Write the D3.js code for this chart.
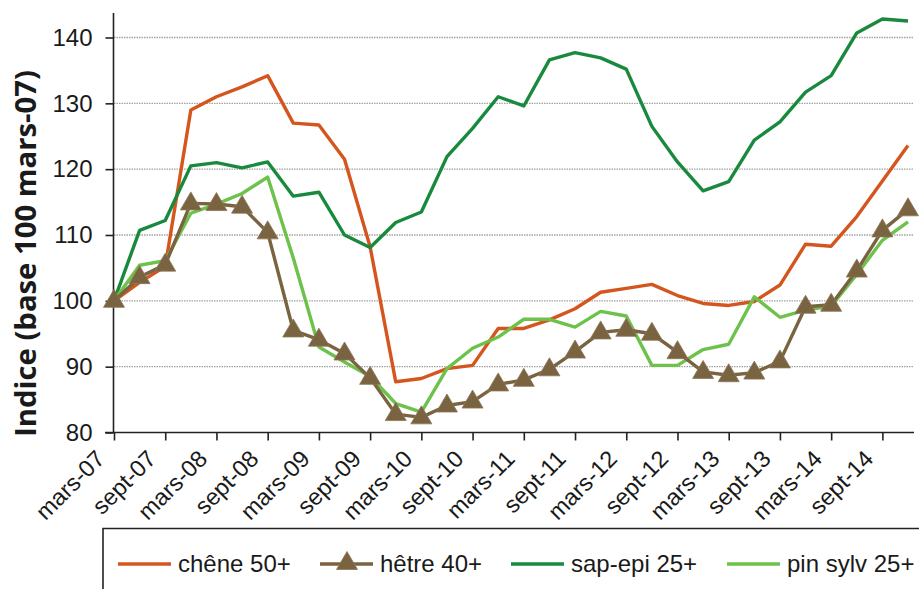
<!DOCTYPE html>
<html>
<head>
<meta charset="utf-8">
<script src="https://cdn.jsdelivr.net/npm/d3@7"></script>
<style>
  html, body { margin: 0; padding: 0; background: #fff; }
  svg { display: block; }
</style>
</head>
<body>
<svg id="chart" width="919" height="589"></svg>
<script>
// ---- data ----
const quarters = [
  "mars-07","juin-07","sept-07","déc-07",
  "mars-08","juin-08","sept-08","déc-08",
  "mars-09","juin-09","sept-09","déc-09",
  "mars-10","juin-10","sept-10","déc-10",
  "mars-11","juin-11","sept-11","déc-11",
  "mars-12","juin-12","sept-12","déc-12",
  "mars-13","juin-13","sept-13","déc-13",
  "mars-14","juin-14","sept-14","déc-14"
];
const tickLabels = ["mars-07","sept-07","mars-08","sept-08","mars-09","sept-09","mars-10","sept-10",
  "mars-11","sept-11","mars-12","sept-12","mars-13","sept-13","mars-14","sept-14"];
const yTicks = [80, 90, 100, 110, 120, 130, 140];

const chene = [100, 102.8, 105.2, 129.0, 131.0, 132.5, 134.2, 127.0, 126.7, 121.5, 108.2, 87.7,
  88.2, 89.7, 90.2, 95.8, 95.8, 97.1, 98.8, 101.3, 101.9, 102.5, 100.8, 99.6,
  99.3, 99.9, 102.4, 108.6, 108.3, 112.8, 118.2, 123.6];
const hetre = [100, 103.6, 105.5, 114.8, 114.7, 114.3, 110.4, 95.5, 94.1, 92.0, 88.3, 82.8,
  82.3, 84.1, 84.7, 87.3, 88.0, 89.6, 92.3, 95.2, 95.6, 95.0, 92.2, 89.2,
  88.7, 89.1, 90.8, 99.1, 99.4, 104.6, 110.7, 113.9];
const sapepi = [100, 110.7, 112.2, 120.5, 121.0, 120.2, 121.1, 115.9, 116.5, 110.0, 108.1, 111.9,
  113.5, 121.9, 126.2, 131.0, 129.6, 136.6, 137.7, 136.9, 135.2, 126.5, 121.1, 116.7,
  118.1, 124.4, 127.2, 131.7, 134.2, 140.7, 142.8, 142.5];
const pinsylv = [100, 105.4, 106.1, 113.3, 114.7, 116.3, 118.8, 106.5, 93.0, 90.7, 88.5, 84.4,
  83.1, 89.7, 92.8, 94.5, 97.2, 97.2, 96.0, 98.4, 97.7, 90.2, 90.2, 92.6,
  93.4, 100.6, 97.5, 98.6, 99.2, 104.0, 109.2, 112.0];

const seriesNames = ["chêne 50+", "hêtre 40+", "sap-epi 25+", "pin sylv 25+"];
const seriesColors = ["#d4561e", "#7a6341", "#198a3d", "#6cc24a"];

// ---- layout ----
const svg = d3.select("#chart");
const x0 = 114, x1 = 908, axisEnd = 914;
const yBottom = 432.5, yTop = 37.5;

const x = d3.scaleLinear().domain([0, quarters.length - 1]).range([x0, x1]);
const y = d3.scaleLinear().domain([80, 140]).range([yBottom, yTop]);

const font = "'Liberation Sans', Arial, sans-serif";

// gridlines
svg.append("g").selectAll("line").data(yTicks.filter(d => d > 80)).join("line")
  .attr("x1", x0).attr("x2", axisEnd)
  .attr("y1", d => y(d)).attr("y2", d => y(d))
  .attr("stroke", "#a3a3a3").attr("stroke-width", 1.4).attr("stroke-dasharray", "1.5,1");

// y axis
const yAxis = d3.axisLeft(y).tickValues(yTicks).tickSize(8).tickPadding(13).tickFormat(d3.format("d"));
const gy = svg.append("g").attr("transform", `translate(${x0 - 0.5},0)`).call(yAxis);
gy.select(".domain").remove();
gy.append("line").attr("x1", 0).attr("x2", 0).attr("y1", yBottom).attr("y2", 13)
  .attr("stroke", "#222").attr("stroke-width", 1.6);
gy.selectAll(".tick line").attr("stroke", "#222").attr("stroke-width", 1.6);
gy.selectAll(".tick text").attr("font-family", font).attr("font-size", 24).attr("fill", "#1a1a1a");

// x axis
const tickIdx = tickLabels.map(l => quarters.indexOf(l));
const xAxis = d3.axisBottom(x).tickValues(tickIdx).tickSize(8).tickFormat(i => quarters[i]);
const gx = svg.append("g").attr("transform", `translate(0,${yBottom})`).call(xAxis);
gx.select(".domain").remove();
gx.append("line").attr("x1", x0 - 9).attr("x2", axisEnd).attr("y1", 0).attr("y2", 0)
  .attr("stroke", "#222").attr("stroke-width", 1.6);
gx.selectAll(".tick line").attr("stroke", "#222").attr("stroke-width", 1.6);
gx.selectAll(".tick text")
  .attr("font-family", font).attr("font-size", 23.5).attr("fill", "#1a1a1a")
  .attr("text-anchor", "end")
  .attr("transform", "translate(-14,22) rotate(-45)")
  .attr("x", 0).attr("y", 0).attr("dy", "0.35em");

// y title
const title = svg.append("text")
  .attr("transform", "translate(36,253.5) rotate(-90)")
  .attr("text-anchor", "middle")
  .attr("font-family", "'Open Sans', 'DejaVu Sans', sans-serif")
  .attr("font-weight", 700).attr("font-size", 26).attr("fill", "#1a1a1a")
  .text("Indice (base 100 mars-07)");
const tl = title.node().getComputedTextLength();
title.attr("font-size", 26 * 367 / tl);

// lines
const line = d3.line().x((d, i) => x(i)).y(d => y(d));
const tri = "M0,-10.5L10.5,7.5L-10.5,7.5Z";
const drawOrder = [
  { data: chene, color: seriesColors[0] },
  { data: sapepi, color: seriesColors[2] },
  { data: pinsylv, color: seriesColors[3] },
  { data: hetre, color: seriesColors[1], marker: true }
];
drawOrder.forEach(s => {
  svg.append("path").datum(s.data).attr("d", line)
    .attr("fill", "none").attr("stroke", s.color).attr("stroke-width", 3.4)
    .attr("stroke-linejoin", "round");
  if (s.marker) {
    svg.append("g").selectAll("path").data(s.data).join("path")
      .attr("d", tri)
      .attr("transform", (d, i) => `translate(${x(i)},${y(d) - 1})`)
      .attr("fill", s.color).attr("stroke", "#8c7656").attr("stroke-width", 0.8);
  }
});

// legend
const lg = svg.append("g");
lg.append("path").attr("d", "M103,600V528.5H925")
  .attr("fill", "none").attr("stroke", "#222").attr("stroke-width", 1.6);
const legendItems = [
  { lx: 118, tx: 178, marker: false },
  { lx: 320, tx: 380, marker: true },
  { lx: 511, tx: 571, marker: false },
  { lx: 727, tx: 787, marker: false }
];
legendItems.forEach((it, k) => {
  lg.append("line").attr("x1", it.lx).attr("x2", it.lx + 53).attr("y1", 564).attr("y2", 564)
    .attr("stroke", seriesColors[k]).attr("stroke-width", 3.4);
  if (it.marker) {
    lg.append("path").attr("d", tri).attr("transform", `translate(${it.lx + 27},562)`)
      .attr("fill", seriesColors[k]).attr("stroke", "#8c7656").attr("stroke-width", 0.8);
  }
  lg.append("text").attr("x", it.tx).attr("y", 572)
    .attr("font-family", font).attr("font-size", 24).attr("fill", "#1a1a1a")
    .text(seriesNames[k]);
});
</script>
</body>
</html>
